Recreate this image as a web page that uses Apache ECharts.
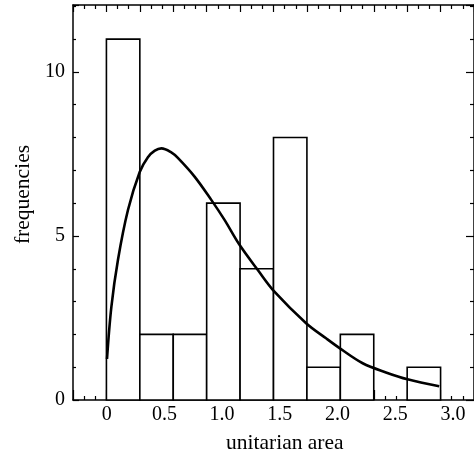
<!DOCTYPE html>
<html>
<head>
<meta charset="utf-8">
<script src="https://cdn.jsdelivr.net/npm/echarts@6/dist/echarts.min.js"></script>
<style>
html,body{margin:0;padding:0;background:#fff;}
#c{width:474px;height:464px;}
</style>
</head>
<body>
<div id="c"></div>
<script>
// ---- data ----
const binWidth = 0.29;
const binStarts = [0, 0.29, 0.58, 0.87, 1.16, 1.45, 1.74, 2.03, 2.32, 2.61];
const binCounts = [11, 2, 2, 6, 4, 8, 1, 2, 0, 1];
const curveX = [0.005, 0.043, 0.10, 0.187, 0.289, 0.36, 0.42, 0.477, 0.563, 0.62, 0.765, 0.91, 1.025, 1.155, 1.314, 1.458, 1.733, 1.906, 2.036, 2.224, 2.426, 2.613, 2.888];
const curveY = [1.25, 2.84, 4.27, 5.79, 6.95, 7.40, 7.60, 7.67, 7.55, 7.38, 6.81, 6.10, 5.49, 4.73, 3.96, 3.30, 2.34, 1.88, 1.55, 1.12, 0.84, 0.63, 0.42];
const xTickLabels = ['0', '0.5', '1.0', '1.5', '2.0', '2.5', '3.0'];
const yTickLabels = ['0', '5', '10'];
const xTitle = 'unitarian area';
const yTitle = 'frequencies';

const FONT = "'Liberation Serif', 'Times New Roman', serif";
const barData = binStarts.map((s, i) => [s, s + binWidth, binCounts[i]]);
const curveData = curveX.map((x, i) => [x, curveY[i]]);
const axisLine = {show: true, onZero: false, lineStyle: {color: '#000', width: 1.5}};

const chart = echarts.init(document.getElementById('c'), null, {renderer: 'canvas'});
chart.setOption({
  animation: false,
  backgroundColor: '#fff',
  grid: [
    {left: 73, top: 5, width: 402, height: 395},
    {left: 106.7, top: 5, width: 346.2, height: 395}
  ],
  xAxis: [
    { // bottom ticks
      type: 'value', gridIndex: 0, position: 'bottom',
      min: -binWidth, max: -binWidth + 12 * binWidth, interval: binWidth,
      axisLine: axisLine,
      axisTick: {show: true, inside: true, length: 10, lineStyle: {color: '#000', width: 1.2}},
      minorTick: {show: true, splitNumber: 3, length: 4, lineStyle: {color: '#000', width: 1.2}},
      axisLabel: {show: false}, splitLine: {show: false}
    },
    { // top ticks
      type: 'value', gridIndex: 0, position: 'top',
      min: -binWidth, max: -binWidth + 12 * binWidth, interval: binWidth,
      axisLine: axisLine,
      axisTick: {show: true, inside: true, length: 7, lineStyle: {color: '#000', width: 1.2}},
      minorTick: {show: true, splitNumber: 3, length: 4, lineStyle: {color: '#000', width: 1.2}},
      axisLabel: {show: false}, splitLine: {show: false}
    },
    { // labels
      type: 'value', gridIndex: 1, position: 'bottom',
      min: 0, max: 3, interval: 0.5,
      axisLine: {show: false, onZero: false}, axisTick: {show: false}, splitLine: {show: false},
      axisLabel: {
        show: true, margin: 5, color: '#000', fontFamily: FONT, fontSize: 20,
        formatter: (v) => xTickLabels[Math.round(v / 0.5)] || ''
      },
      name: xTitle, nameLocation: 'middle', nameGap: 32,
      nameTextStyle: {color: '#000', fontFamily: FONT, fontSize: 21.5, padding: [0, 0, 0, 10]}
    }
  ],
  yAxis: [
    {
      type: 'value', gridIndex: 0, position: 'left',
      min: 0, max: 12.04, interval: 5,
      axisLine: axisLine,
      axisTick: {show: true, inside: true, length: 6, lineStyle: {color: '#000', width: 1.2}},
      minorTick: {show: true, splitNumber: 5, length: 3, lineStyle: {color: '#000', width: 1.2}},
      splitLine: {show: false},
      axisLabel: {
        show: true, margin: 8, color: '#000', fontFamily: FONT, fontSize: 20,
        formatter: (v) => { const i = Math.round(v / 5); return (Math.abs(v - i * 5) < 1e-6 && yTickLabels[i]) ? yTickLabels[i] : ''; }
      },
      name: yTitle, nameLocation: 'middle', nameGap: 37,
      nameTextStyle: {color: '#000', fontFamily: FONT, fontSize: 21.5, padding: [0, 0, 0, 16]}
    },
    {
      type: 'value', gridIndex: 0, position: 'right',
      min: 0, max: 12.04, interval: 5,
      axisLine: axisLine,
      axisTick: {show: true, inside: true, length: 8, lineStyle: {color: '#000', width: 1.2}},
      minorTick: {show: true, splitNumber: 5, length: 4, lineStyle: {color: '#000', width: 1.2}},
      splitLine: {show: false}, axisLabel: {show: false}
    },
    {
      type: 'value', gridIndex: 1, min: 0, max: 12.04, show: false
    }
  ],
  series: [
    {
      type: 'custom', xAxisIndex: 0, yAxisIndex: 0,
      data: barData,
      renderItem: function (params, api) {
        const x0 = api.value(0), x1 = api.value(1), c = api.value(2);
        if (!c) return null;
        const p0 = api.coord([x0, c]);
        const p1 = api.coord([x1, 0]);
        return {
          type: 'rect',
          shape: {x: p0[0], y: p0[1], width: p1[0] - p0[0], height: p1[1] - p0[1]},
          style: {fill: '#fff', stroke: '#000', lineWidth: 1.6}
        };
      },
      z: 2
    },
    {
      type: 'line', xAxisIndex: 0, yAxisIndex: 0,
      data: curveData, smooth: 0.35, showSymbol: false,
      lineStyle: {color: '#000', width: 2.6},
      z: 3
    }
  ]
});
</script>
</body>
</html>
